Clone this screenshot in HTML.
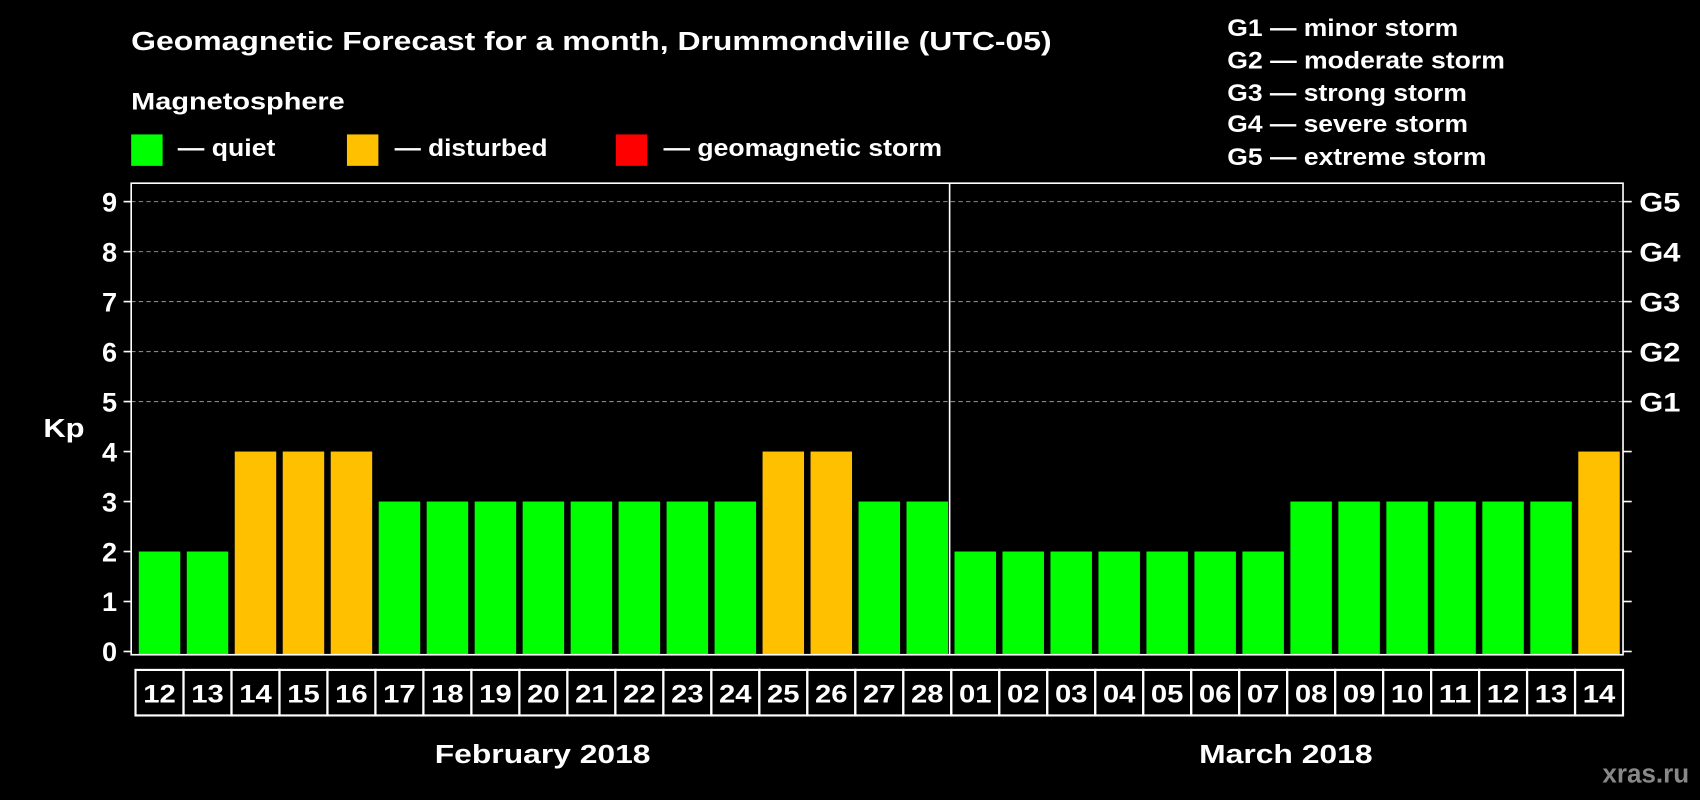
<!DOCTYPE html>
<html><head><meta charset="utf-8"><style>
html,body{margin:0;padding:0;background:#000;}
svg{display:block;}
text{font-family:"Liberation Sans",Arial,sans-serif;font-weight:bold;fill:#fff;}
</style></head><body>
<svg id="chart" width="1700" height="800" viewBox="0 0 1568 738" preserveAspectRatio="none" xmlns="http://www.w3.org/2000/svg">
<rect x="0" y="0" width="1568" height="738" fill="#000"/>
<text x="121" y="46" font-size="24" textLength="849" lengthAdjust="spacingAndGlyphs">Geomagnetic Forecast for a month, Drummondville (UTC-05)</text>
<text x="121" y="101" font-size="22" textLength="197" lengthAdjust="spacingAndGlyphs">Magnetosphere</text>
<g><rect x="121" y="124" width="29" height="29" fill="#00ff00"/><text x="164" y="144" font-size="22" textLength="90" lengthAdjust="spacingAndGlyphs">— quiet</text></g>
<g><rect x="320" y="124" width="29" height="29" fill="#ffc000"/><text x="364" y="144" font-size="22" textLength="141" lengthAdjust="spacingAndGlyphs">— disturbed</text></g>
<g><rect x="568" y="124" width="29" height="29" fill="#ff0000"/><text x="612" y="144" font-size="22" textLength="257" lengthAdjust="spacingAndGlyphs">— geomagnetic storm</text></g>
<g>
<text x="1132" y="33" font-size="22" textLength="213" lengthAdjust="spacingAndGlyphs">G1 — minor storm</text>
<text x="1132" y="63" font-size="22" textLength="256" lengthAdjust="spacingAndGlyphs">G2 — moderate storm</text>
<text x="1132" y="93" font-size="22" textLength="221" lengthAdjust="spacingAndGlyphs">G3 — strong storm</text>
<text x="1132" y="122" font-size="22" textLength="222" lengthAdjust="spacingAndGlyphs">G4 — severe storm</text>
<text x="1132" y="152" font-size="22" textLength="239" lengthAdjust="spacingAndGlyphs">G5 — extreme storm</text>
</g>
<text x="40" y="403" font-size="24" textLength="38" lengthAdjust="spacingAndGlyphs">Kp</text>
<text x="401" y="704" font-size="24" textLength="199" lengthAdjust="spacingAndGlyphs">February 2018</text>
<text x="1106" y="704" font-size="24" textLength="160" lengthAdjust="spacingAndGlyphs">March 2018</text>
<text x="1558" y="722" font-size="24" text-anchor="end" style="fill:#888">xras.ru</text>
<g id="grid"></g><g id="bars"></g><g id="axes"></g>
</svg>
<script>
const days = ["12","13","14","15","16","17","18","19","20","21","22","23","24","25","26","27","28","01","02","03","04","05","06","07","08","09","10","11","12","13","14"];
const kpValues = [2,2,4,4,4,3,3,3,3,3,3,3,3,4,4,3,3,2,2,2,2,2,2,2,3,3,3,3,3,3,4];
const yTicks = [0,1,2,3,4,5,6,7,8,9];
const gLabels = ["G1","G2","G3","G4","G5"];
const gLevels = [5,6,7,8,9];
const NS="http://www.w3.org/2000/svg";
const L=121,R=1497,T=169,B=604,Y0=601,Y9=186;
const y=v=>Y0-(Y0-Y9)*v/9;
const pitch=(R-L-4)/days.length;
const x=i=>L+4+i*pitch;
const bw=pitch-6;
function mk(tag,attrs,parent){const e=document.createElementNS(NS,tag);for(const k in attrs)e.setAttribute(k,attrs[k]);parent.appendChild(e);return e;}
const grid=document.getElementById('grid'),bars=document.getElementById('bars'),axes=document.getElementById('axes');
yTicks.forEach(v=>{
  if(v>=5){const g=mk('line',{x1:L,x2:R,y1:y(v),y2:y(v),stroke:'#888','stroke-dasharray':'4,3','stroke-width':1},grid);
  
  }
  const t=mk('line',{x1:L-7,x2:L,y1:y(v),y2:y(v),stroke:'#fff','stroke-width':1.5},axes);
  
  
  const t2=mk('line',{x1:R,x2:R+8,y1:y(v),y2:y(v),stroke:'#fff','stroke-width':1.5},axes);
  
  
  const lb=mk('text',{x:108,y:y(v)+9,'font-size':25,'text-anchor':'end'},axes);
  lb.textContent=v;
  
  
});
gLevels.forEach((v,i)=>{
  const lb=mk('text',{x:1512,y:y(v)+9,'font-size':25,textLength:38,lengthAdjust:'spacingAndGlyphs'},axes);
  lb.textContent=gLabels[i];
  
  
});
kpValues.forEach((v,i)=>{
  const c=v>=5?'#ff0000':(v>=4?'#ffc000':'#00ff00');
  const r=mk('rect',{x:x(i)+3,y:y(v),width:bw,height:B-y(v),fill:c},bars);
  
  
  const bx=mk('rect',{x:x(i),y:618,width:pitch,height:42,fill:'none',stroke:'#fff','stroke-width':2},axes);
  
  
  const tl=mk('text',{x:x(i)+pitch/2-15,y:648,'font-size':23,textLength:30,lengthAdjust:'spacingAndGlyphs'},axes);
  tl.textContent=days[i];
  
  
});
const fr=mk('rect',{x:L,y:T,width:R-L,height:B-T,fill:'none',stroke:'#fff','stroke-width':1.5},axes);


const dx=x(17)-1.5;
const dv=mk('line',{x1:dx,x2:dx,y1:T,y2:B,stroke:'#fff','stroke-width':1.5},axes);


</script>
</body></html>
